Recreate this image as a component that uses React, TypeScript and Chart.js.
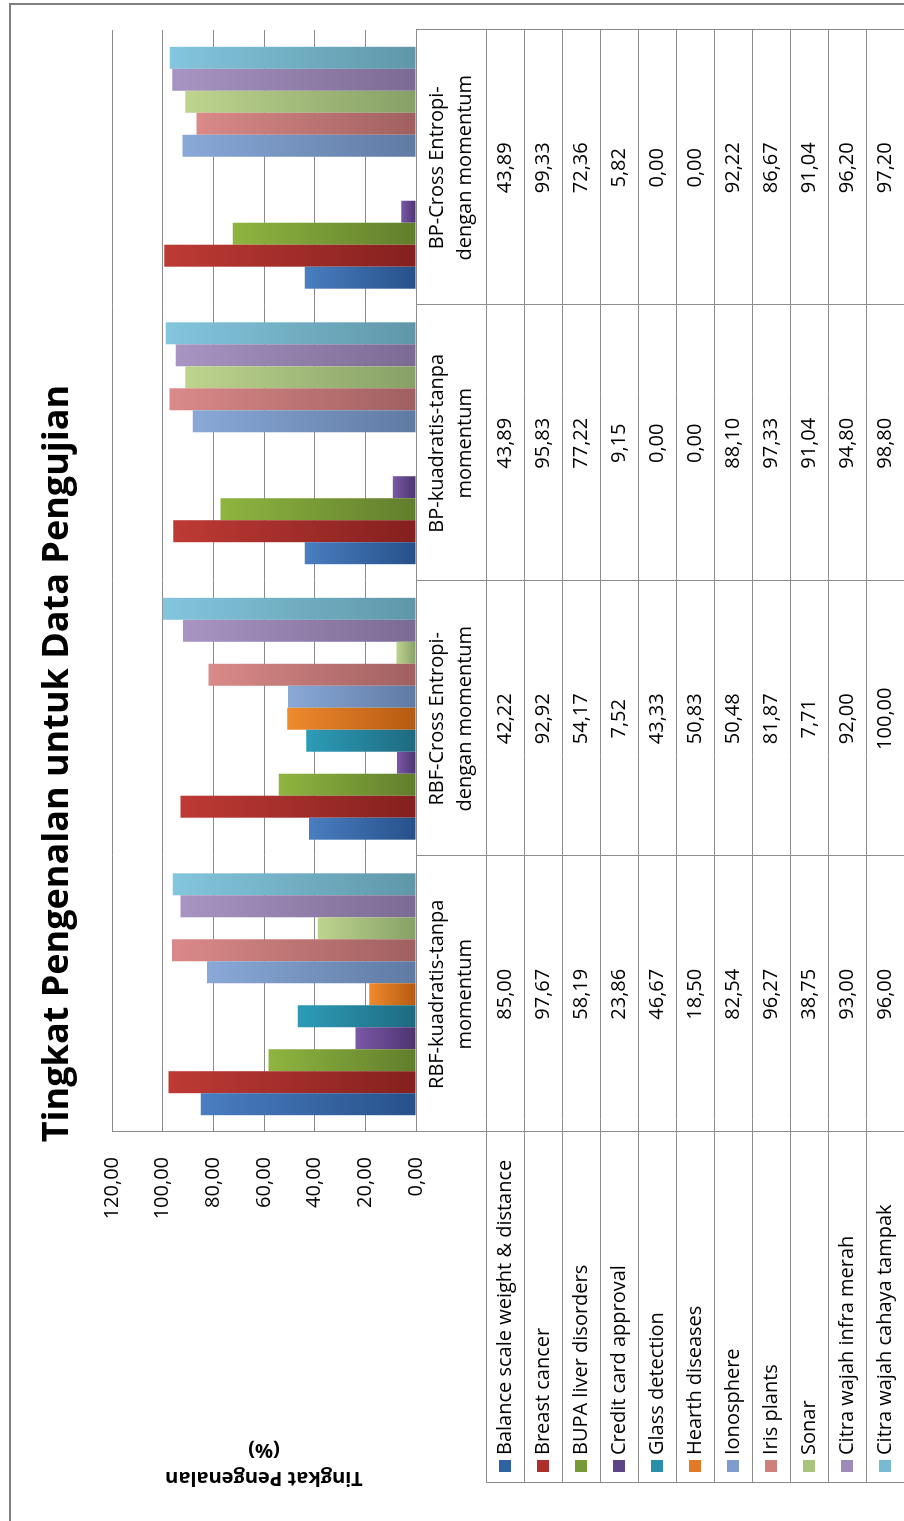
import React, { useEffect, useRef } from 'react';
import { Chart, registerables } from 'chart.js';

Chart.register(...registerables);

// ---------- data ----------
const chartTitle = 'Tingkat Pengenalan untuk Data Pengujian';
const axisTitle = ['Tingkat Pengenalan', '(%)'];

const categories: string[][] = [
  ['RBF-kuadratis-tanpa', 'momentum'],
  ['RBF-Cross Entropi-', 'dengan momentum'],
  ['BP-kuadratis-tanpa', 'momentum'],
  ['BP-Cross Entropi-', 'dengan momentum'],
];

const seriesNames = [
  'Balance scale weight & distance',
  'Breast cancer',
  'BUPA liver disorders',
  'Credit card approval',
  'Glass detection',
  'Hearth diseases',
  'Ionosphere',
  'Iris plants',
  'Sonar',
  'Citra wajah infra merah',
  'Citra wajah cahaya tampak',
];

const balanceScale = [85.0, 42.22, 43.89, 43.89];
const breastCancer = [97.67, 92.92, 95.83, 99.33];
const bupaLiver = [58.19, 54.17, 77.22, 72.36];
const creditCard = [23.86, 7.52, 9.15, 5.82];
const glassDetection = [46.67, 43.33, 0.0, 0.0];
const hearthDiseases = [18.5, 50.83, 0.0, 0.0];
const ionosphere = [82.54, 50.48, 88.1, 92.22];
const irisPlants = [96.27, 81.87, 97.33, 86.67];
const sonar = [38.75, 7.71, 91.04, 91.04];
const citraInfraMerah = [93.0, 92.0, 94.8, 96.2];
const citraCahayaTampak = [96.0, 100.0, 98.8, 97.2];

const seriesValues = [
  balanceScale, breastCancer, bupaLiver, creditCard, glassDetection, hearthDiseases,
  ionosphere, irisPlants, sonar, citraInfraMerah, citraCahayaTampak,
];

const yMin = 0;
const yMax = 120;
const yStep = 20;

// ---------- styles ----------
const lightColors = ['#4a7ec0', '#be3a35', '#8fb540', '#7a58a6', '#2d9cb8', '#f08a2e', '#8aa9d8', '#da8a88', '#bed48e', '#a895c3', '#84c6de'];
const darkColors = ['#26508a', '#84201e', '#617e2c', '#4c3470', '#1e6a80', '#b55a12', '#5f7aa3', '#a06060', '#86a066', '#7b6a93', '#5f97a8'];
const swatchColors = ['#2f62a3', '#ae2e2b', '#789a36', '#5f4387', '#2a8fab', '#e07a26', '#7f9ccc', '#cf7f7c', '#a8c47a', '#9d8cba', '#78bad2'];

const FONT = '"Open Sans", "DejaVu Sans", sans-serif';
const fmt = (v: number) => v.toFixed(2).replace('.', ',');

const W = 1521;
const H = 904;

const tablePlugin = {
  id: 'dataTable',
  afterDraw(chart: any) {
    const { ctx, chartArea, scales } = chart;
    const xs = scales.x;
    const left = chartArea.left;
    const right = chartArea.right;
    const top = chartArea.bottom;
    const headerH = 70;
    const rowH = 38;
    const legendLeft = 38;
    const headerBottom = top + headerH;
    const tableBottom = headerBottom + rowH * seriesNames.length;
    const n = categories.length;
    const half = (xs.getPixelForValue(1) - xs.getPixelForValue(0)) / 2;
    const bounds: number[] = [];
    for (let i = 0; i < n; i++) bounds.push(xs.getPixelForValue(i) - half);
    bounds.push(xs.getPixelForValue(n - 1) + half);

    ctx.save();
    ctx.strokeStyle = '#8c8c8c';
    ctx.lineWidth = 1;
    const crisp = (p: number) => Math.round(p) + 0.5;
    ctx.beginPath();
    ctx.moveTo(left, crisp(top));
    ctx.lineTo(right, crisp(top));
    for (let k = 0; k <= seriesNames.length; k++) {
      const yy = crisp(headerBottom + k * rowH);
      ctx.moveTo(legendLeft, yy);
      ctx.lineTo(right, yy);
    }
    for (const b of bounds) {
      ctx.moveTo(crisp(b), top);
      ctx.lineTo(crisp(b), tableBottom);
    }
    ctx.moveTo(crisp(legendLeft), headerBottom);
    ctx.lineTo(crisp(legendLeft), tableBottom);
    ctx.stroke();

    ctx.fillStyle = '#000';
    ctx.font = `20px ${FONT}`;
    ctx.textAlign = 'center';
    ctx.textBaseline = 'middle';
    const hc = top + headerH / 2;
    categories.forEach((lines, i) => {
      const cx = xs.getPixelForValue(i);
      lines.forEach((ln, j) => {
        ctx.fillText(ln, cx, hc + (j - (lines.length - 1) / 2) * 28);
      });
    });
    seriesValues.forEach((vals, r) => {
      const cy = headerBottom + rowH * r + rowH / 2;
      vals.forEach((v, i) => {
        ctx.fillText(fmt(v), xs.getPixelForValue(i), cy);
      });
    });
    ctx.textAlign = 'left';
    seriesNames.forEach((name, r) => {
      const cy = headerBottom + rowH * r + rowH / 2;
      ctx.fillStyle = swatchColors[r];
      ctx.fillRect(legendLeft + 11, Math.round(cy - 6), 12, 12);
      ctx.fillStyle = '#000';
      ctx.fillText(name, legendLeft + 28, cy);
    });

    // outer frame
    ctx.strokeStyle = '#808080';
    ctx.lineWidth = 2;
    ctx.strokeRect(-10, 10, 1527, 920);
    ctx.restore();
  },
};

export default function App() {
  const canvasRef = useRef<HTMLCanvasElement | null>(null);

  useEffect(() => {
    const canvas = canvasRef.current;
    if (!canvas) return;
    const datasets = seriesNames.map((name, i) => ({
      label: name,
      data: seriesValues[i],
      borderWidth: 0,
      categoryPercentage: 0.878,
      barPercentage: 1.0,
      backgroundColor: (c: any) => {
        const ch = c.chart;
        const ys = ch.scales && ch.scales.y;
        if (!ys || c.type !== 'data') return darkColors[i];
        const v = c.raw as number;
        const t = ys.getPixelForValue(v);
        const b = ys.getPixelForValue(0);
        if (!isFinite(t) || !isFinite(b) || b - t < 1) return darkColors[i];
        const g = ch.ctx.createLinearGradient(0, t, 0, b);
        g.addColorStop(0, lightColors[i]);
        g.addColorStop(1, darkColors[i]);
        return g;
      },
    }));

    const chart = new Chart(canvas, {
      type: 'bar',
      data: { labels: categories.map((c) => c.join(' ')), datasets },
      plugins: [tablePlugin],
      options: {
        animation: false,
        responsive: false,
        devicePixelRatio: 1,
        layout: { padding: { left: 24, right: 30, top: 0, bottom: H - 416 } },
        plugins: {
          legend: { display: false },
          tooltip: { enabled: false },
          title: {
            display: true,
            text: chartTitle,
            color: '#000',
            font: { family: FONT, size: 36, weight: 'bold', lineHeight: 1.2 },
            padding: { top: 36.4, bottom: 32.4 },
          },
        },
        scales: {
          x: {
            display: false,
            grid: { display: false },
          },
          y: {
            min: yMin,
            max: yMax,
            afterFit: (s: any) => {
              s.width = 365;
            },
            ticks: {
              stepSize: yStep,
              padding: 25,
              color: '#000',
              font: { family: FONT, size: 20 },
              callback: (v: any) => fmt(Number(v)),
            },
            grid: { color: '#8a8a8a', lineWidth: 1, drawTicks: false },
            border: { display: true, color: '#8a8a8a', width: 1 },
            title: {
              display: true,
              text: axisTitle,
              color: '#000',
              font: { family: FONT, size: 20, weight: 'bold', lineHeight: 1.4 },
              padding: { top: 5, bottom: 0 },
            },
          },
        },
      },
    });
    return () => chart.destroy();
  }, []);

  return (
    <div style={{ position: 'fixed', left: 0, top: 0, width: 904, height: 1521, overflow: 'hidden', background: '#fff' }}>
      <div
        style={{
          position: 'absolute',
          left: 0,
          top: 0,
          width: W,
          height: H,
          transformOrigin: '0 0',
          transform: `translate(0px, ${W}px) rotate(-90deg)`,
        }}
      >
        <canvas ref={canvasRef} width={W} height={H} style={{ display: 'block', width: W, height: H }} />
      </div>
    </div>
  );
}
